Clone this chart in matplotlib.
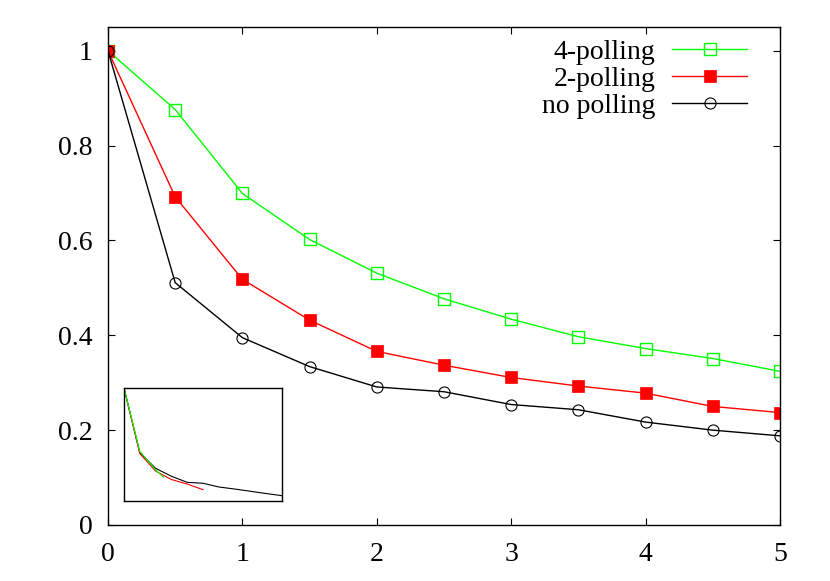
import numpy as np
import matplotlib
matplotlib.use('Agg')
import matplotlib.pyplot as plt

# main chart data
x = [0, 0.5, 1, 1.5, 2, 2.5, 3, 3.5, 4, 4.5, 5]
poll4 = [1.0, 0.876, 0.699, 0.602, 0.531, 0.477, 0.434, 0.397, 0.372, 0.351, 0.324]
poll2 = [1.0, 0.692, 0.518, 0.432, 0.366, 0.337, 0.311, 0.293, 0.278, 0.250, 0.237]
nopoll = [1.0, 0.511, 0.395, 0.334, 0.291, 0.281, 0.254, 0.243, 0.217, 0.200, 0.188]
labels = ['4-polling', '2-polling', 'no polling']
xticks = [0, 1, 2, 3, 4, 5]
yticks = [0, 0.2, 0.4, 0.6, 0.8, 1]
ytick_labels = ['0', '0.2', '0.4', '0.6', '0.8', '1']

# inset data
inset_x_black = [0, 1, 2, 3, 4, 5, 6, 7, 8, 9, 10]
inset_black = [1.0, 0.427, 0.289, 0.219, 0.165, 0.157, 0.124, 0.106, 0.086, 0.066, 0.047]
inset_x_red = [0, 1, 2, 3, 4, 5]
inset_red = [1.0, 0.42, 0.265, 0.19, 0.15, 0.10]
inset_x_green = [0, 1, 2, 2.5]
inset_green = [1.0, 0.44, 0.275, 0.21]

plt.rcParams['font.family'] = 'Liberation Serif'
plt.rcParams['font.size'] = 20

fig = plt.figure(figsize=(8.3, 5.81), dpi=100)
ax = fig.add_axes([0.1301, 0.0964, 0.8096, 0.8571])

ax.plot(x, poll4, color='#00ff00', lw=1.0, marker='s', ms=8.5, mfc='none',
        mec='#00ff00', mew=1.0, label=labels[0])
ax.plot(x, poll2, color='#ff0000', lw=1.0, marker='s', ms=8, mfc='#ff0000',
        mec='#ff0000', mew=0.5, label=labels[1])
ax.plot(x, nopoll, color='black', lw=1.0, marker='o', ms=8, mfc='none',
        mec='black', mew=0.8, label=labels[2])

ax.set_xlim(0, 5)
ax.set_ylim(0, 1.05)
ax.set_xticks(xticks)
ax.set_xticklabels([str(t) for t in xticks])
ax.set_yticks(yticks)
ax.set_yticklabels(ytick_labels)
ax.tick_params(direction='in', length=5, width=0.8, top=True, right=True)
ax.tick_params(axis='x', pad=12)
ax.tick_params(axis='y', pad=11)
for s in ax.spines.values():
    s.set_linewidth(1.0)

leg = ax.legend(loc='upper right', frameon=False, markerfirst=False,
                handlelength=2.7, handletextpad=0.6, labelspacing=0.05,
                borderaxespad=0.2, bbox_to_anchor=(0.976, 1.008))

# inset
ins = fig.add_axes([0.1494, 0.1377, 0.1904, 0.1945])
ins.plot(inset_x_black, inset_black, color='black', lw=0.8)
ins.plot(inset_x_red, inset_red, color='#ff0000', lw=0.8)
ins.plot(inset_x_green, inset_green, color='#00ff00', lw=0.8)
ins.set_xlim(0, 10)
ins.set_ylim(0, 1.0)
ins.set_xticks([])
ins.set_yticks([])
for s in ins.spines.values():
    s.set_linewidth(1.0)

fig.savefig('out.png', dpi=100)
